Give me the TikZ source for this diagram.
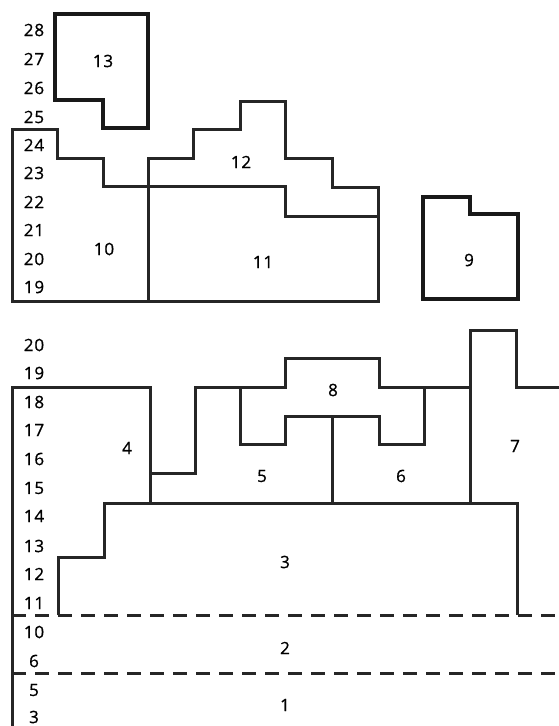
\documentclass[tikz,border=0pt]{standalone}
\usepackage{fontspec}
\setmainfont{Open Sans}[FakeBold=0.8,LetterSpace=5]
\begin{document}
\begin{tikzpicture}[x=1pt,y=-1pt,
  wall/.style={line width=3pt,line join=miter,draw=black!85},
  thickwall/.style={line width=4.4pt,line join=miter,draw=black!90},
  dashline/.style={line width=3pt,draw=black!85,dash pattern=on 14pt off 9pt},
  lvl/.style={font=\fontsize{17}{17}\selectfont,inner sep=0pt,anchor=center},
  num/.style={font=\fontsize{17}{17}\selectfont,inner sep=0pt,anchor=center}]
\useasboundingbox (0,0) rectangle (559,726);
% ---- upper group ----
\draw[thickwall] (55,14) -- (148,14) -- (148,128) -- (103,128) -- (103,100) -- (55,100) -- cycle;
\draw[thickwall] (423,197) -- (470,197) -- (470,214) -- (518,214) -- (518,299) -- (423,299) -- cycle;
\draw[wall] (148,301) -- (148,158) -- (193,158) -- (193,129) -- (240,129) -- (240,101) -- (285,101) -- (285,158) -- (332,158) -- (332,187) -- (378,187) -- (378,301) -- (12,301) -- (12,129) -- (57,129) -- (57,158) -- (103,158) -- (103,186) -- (285,186) -- (285,216) -- (378,216);
% ---- lower group ----
\draw[wall] (12,726) -- (12,387) -- (150,387) -- (150,503);
\draw[wall] (150,473) -- (195,473) -- (195,387) -- (285,387) -- (285,358) -- (379,358) -- (379,387) -- (470,387);
\draw[wall] (470,503) -- (470,330) -- (516,330) -- (516,387) -- (559,387);
\draw[wall] (240,387) -- (240,444) -- (285,444) -- (285,416) -- (379,416) -- (379,444) -- (424,444) -- (424,387);
\draw[wall] (332,416) -- (332,503);
\draw[wall] (58,615) -- (58,557) -- (104,557) -- (104,503) -- (517,503) -- (517,615);
\draw[dashline] (12,615) -- (559,615);
\draw[dashline] (12,673) -- (559,673);
% ---- level labels ----
\foreach \t/\y in {28/30,27/59,26/88,25/117,24/145,23/173,22/202,21/230,20/259,19/287}
  \node[lvl] (u\t) at (34,\y) {\t};
\foreach \t/\y in {20/345,19/373,18/402,17/430,16/459,15/488,14/516,13/546,12/574,11/603,10/632,6/661,5/690,3/717}
  \node[lvl] (l\t) at (34,\y) {\t};
% ---- unit numbers ----
\node[num] (n13) at (103,61) {13};
\node[num] (n12) at (241,162) {12};
\node[num] (n10) at (104,249) {10};
\node[num] (n11) at (263,262) {11};
\node[num] (n9) at (469,260) {9};
\node[num] (n4) at (127,448) {4};
\node[num] (n8) at (333,390) {8};
\node[num] (n5) at (262,476) {5};
\node[num] (n6) at (401,476) {6};
\node[num] (n7) at (515,446) {7};
\node[num] (n3) at (285,562) {3};
\node[num] (n2) at (285,648) {2};
\node[num] (n1) at (285,705) {1};
\end{tikzpicture}
\end{document}
